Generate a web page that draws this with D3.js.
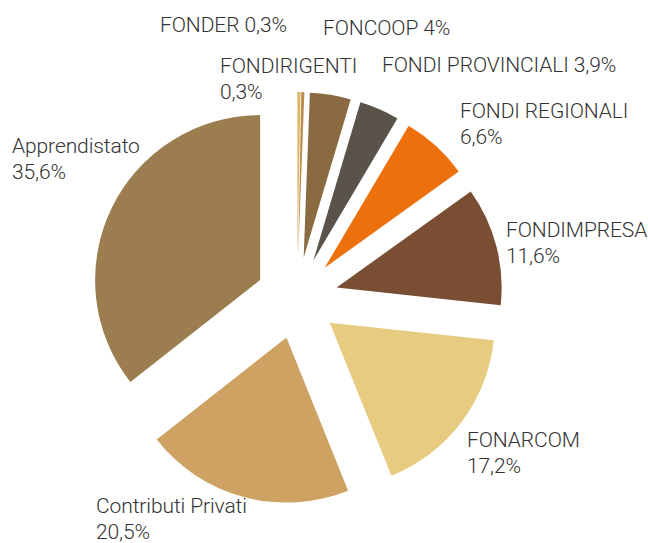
<!DOCTYPE html>
<html>
<head>
<meta charset="utf-8">
<script src="https://cdn.jsdelivr.net/npm/d3@7"></script>
<style>
  html, body { margin: 0; padding: 0; background: #fff; }
  svg { display: block; }
  .lbl { font-family: Roboto, "Liberation Sans", sans-serif; font-weight: 300; font-size: 21px; fill: #333; letter-spacing: -0.1px; }
</style>
</head>
<body>
<svg id="chart" width="648" height="543"></svg>
<script>
// ---- data ----
const categories = ["FONDER", "FONDIRIGENTI", "FONCOOP", "FONDI PROVINCIALI", "FONDI REGIONALI",
                    "FONDIMPRESA", "FONARCOM", "Contributi Privati", "Apprendistato"];
const values = [0.3, 0.3, 4, 3.9, 6.6, 11.6, 17.2, 20.5, 35.6];
const colors = ["#dcb565", "#b98c4c", "#8a6a40", "#59534a", "#ec700c",
                "#7a4e32", "#e6cb81", "#cda263", "#9b7d4f"];

// label layout (x, first baseline, single line or split)
const labelLayout = {
  "FONDER":            { x: 160, y: 32,  inline: true },
  "FONDIRIGENTI":      { x: 220, y: 73,  inline: false },
  "FONCOOP":           { x: 323, y: 35,  inline: true },
  "FONDI PROVINCIALI": { x: 382, y: 72,  inline: true },
  "FONDI REGIONALI":   { x: 460, y: 118, inline: false },
  "FONDIMPRESA":       { x: 506, y: 237, inline: false },
  "FONARCOM":          { x: 467, y: 447, inline: false },
  "Contributi Privati":{ x: 96,  y: 513, inline: false },
  "Apprendistato":     { x: 12,  y: 153, inline: false }
};

const cx = 297, cy = 298, radius = 165, explode = 41, lineH = 25.5;

const data = categories.map((c, i) => ({ name: c, value: values[i], color: colors[i] }));
const fmt = v => String(v).replace(".", ",") + "%";

const svg = d3.select("#chart");
const g = svg.append("g").attr("transform", `translate(${cx},${cy})`);

const pie = d3.pie().sort(null).value(d => d.value).startAngle(0).endAngle(2 * Math.PI);
const arc = d3.arc().innerRadius(0).outerRadius(radius);
const arcs = pie(data);

g.selectAll("path.slice")
  .data(arcs)
  .enter().append("path")
  .attr("class", "slice")
  .attr("d", arc)
  .attr("fill", d => d.data.color)
  .attr("transform", d => {
    const a = (d.startAngle + d.endAngle) / 2;
    return `translate(${Math.sin(a) * explode},${-Math.cos(a) * explode})`;
  });

const labels = svg.append("g");
data.forEach(d => {
  const L = labelLayout[d.name];
  const t = labels.append("text").attr("class", "lbl").attr("x", L.x).attr("y", L.y);
  if (L.inline) {
    t.text(d.name + " " + fmt(d.value));
  } else {
    t.append("tspan").attr("x", L.x).attr("y", L.y).text(d.name);
    t.append("tspan").attr("x", L.x).attr("y", L.y + lineH).text(fmt(d.value));
  }
});
</script>
</body>
</html>
